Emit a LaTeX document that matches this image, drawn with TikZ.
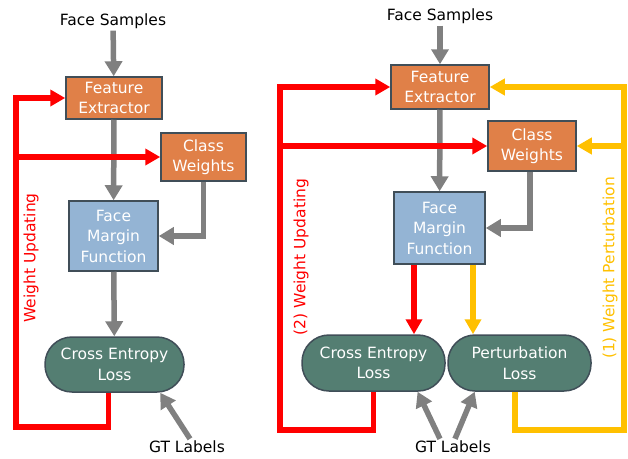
\documentclass[tikz,border=0pt]{standalone}
\usepackage{fontspec}
\setmainfont{DejaVu Sans}
\usetikzlibrary{arrows.meta,positioning,calc}
\definecolor{boxorange}{RGB}{224,128,72}
\definecolor{boxblue}{RGB}{148,180,212}
\definecolor{lossgreen}{RGB}{84,126,114}
\definecolor{edgeslate}{RGB}{64,78,88}
\definecolor{flowgray}{RGB}{128,128,128}
\definecolor{perturbyellow}{RGB}{255,192,0}
\tikzstyle{module} = [rectangle, minimum width=96pt, minimum height=42pt, inner sep=0pt, align=center, text=white, draw=edgeslate, line width=1.5pt, fill=boxorange, font=\fontsize{15.5}{20.5}\selectfont]
\tikzstyle{margin} = [module, fill=boxblue]
\tikzstyle{loss} = [module, rounded corners=27pt, fill=lossgreen]
\tikzstyle{plain} = [font=\fontsize{15.5}{20.5}\selectfont, inner sep=2pt]
\tikzstyle{flow} = [line width=5.5pt, draw=flowgray, -{Triangle[length=15pt,width=17pt]}]
\tikzstyle{update} = [line width=5.5pt, draw=red, -{Triangle[length=15pt,width=16pt]}]
\tikzstyle{perturb} = [update, draw=perturbyellow]
\begin{document}
\begin{tikzpicture}[x=1pt,y=-1pt]
\useasboundingbox (0,0) rectangle (628,458);

% left: standard training
\node (lFS) [plain] at (113,21) {Face Samples};
\node (lFE) [module] at (114,98) {Feature\\Extractor};
\node (lCW) [module, minimum width=85pt, minimum height=48pt] at (203.5,157) {Class\\Weights};
\node (lFM) [margin, minimum width=89pt, minimum height=70pt] at (113.5,236) {Face\\Margin\\Function};
\node (lCE) [loss, minimum width=139pt, minimum height=55pt] at (114.5,364.5) {Cross Entropy\\Loss};
\node (lGT) [plain] at (187,447) {GT Labels};
\coordinate (lBL) at (16,427);

\draw [flow] (lFS) -- (lFE);
\draw [flow] (lFE) -- (lFM);
\draw [flow] (lCW.south) |- (lFM.east);
\draw [flow] (lFM) -- (lCE);
\draw [flow] ([xshift=3pt]lGT.north) -- ($(lCE.south)!0.65!(lCE.south east)$);
\draw [update] ([xshift=-6pt]lCE.south) |- (lBL) |- (lFE.west);
\draw [update] (lBL |- lCW.west) -- (lCW.west);
\node (lWU) [plain, text=red, rotate=90] at (31,258) {Weight Updating};

% right: with weight perturbation
\node (rFS) [plain] at (440,16) {Face Samples};
\node (rFE) [module, minimum width=98pt, minimum height=44pt] at (440,87) {Feature\\Extractor};
\node (rCW) [module, minimum width=88pt, minimum height=50pt] at (532,146) {Class\\Weights};
\node (rFM) [margin, minimum width=91pt, minimum height=72pt] at (439.5,228) {Face\\Margin\\Function};
\node (rCE) [loss, minimum width=143pt, minimum height=56pt] at (373.5,363) {Cross Entropy\\Loss};
\node (rPL) [loss, minimum width=143pt, minimum height=56pt] at (519.5,363) {Perturbation\\Loss};
\node (rGT) [plain] at (453,447) {GT Labels};
\coordinate (rBL) at (280,430);
\coordinate (rBR) at (624,430);
\coordinate (rFMl) at ([xshift=-25.5pt]rFM.south);
\coordinate (rFMr) at ([xshift=33.5pt]rFM.south);

\draw [flow] (rFS) -- (rFE);
\draw [flow] (rFE) -- (rFM);
\draw [flow] ([xshift=-2pt]rCW.south) |- (rFM.east);
\draw [update] (rFMl) -- (rFMl |- rCE.north);
\draw [perturb] (rFMr) -- (rFMr |- rPL.north);
\draw [flow] ([xshift=-13pt]rGT.north) -- ($(rCE.south)!0.61!(rCE.south east)$);
\draw [flow] ([xshift=2pt]rGT.north) -- ($(rPL.south west)!0.38!(rPL.south)$);
\draw [update] (rCE.south) |- (rBL) |- (rFE.west);
\draw [update] (rBL |- rCW.west) -- (rCW.west);
\draw [perturb] ([xshift=-4.5pt]rPL.south) |- (rBR) |- (rFE.east);
\draw [perturb] (rBR |- rCW.east) -- (rCW.east);
\node (rWU) [plain, text=red, rotate=90] at (301,257) {(2) Weight Updating};
\node (rWP) [plain, text=perturbyellow, rotate=90] at (610,268) {(1) Weight Perturbation};
\end{tikzpicture}
\end{document}
